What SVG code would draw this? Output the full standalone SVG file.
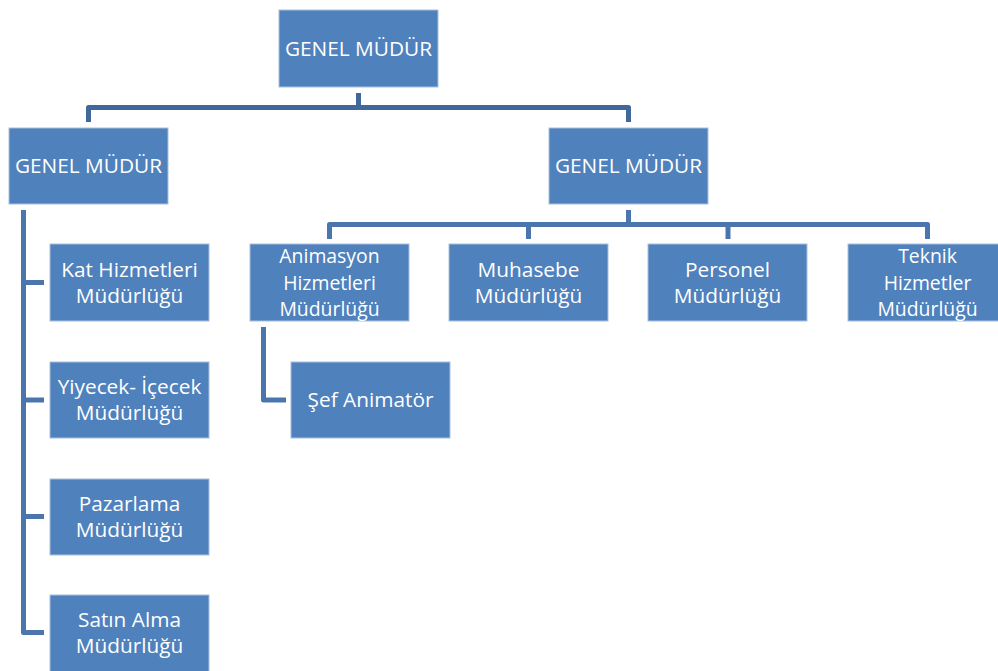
<svg xmlns="http://www.w3.org/2000/svg" width="998" height="671" viewBox="0 0 998 671">
<style>
.box{fill:#4f81bd;stroke:#a9c0de;stroke-width:1}
.t{fill:#ffffff;font-family:"Open Sans","Liberation Sans",sans-serif;font-size:20.8px;text-anchor:middle}
.t3{font-size:19.4px}
.c{fill:none;stroke:#4a76ad;stroke-width:5;stroke-linejoin:round}
.c0{stroke:#41689a}
</style>
<rect width="998" height="671" fill="#ffffff"/>
<g id="connectors">
<path class="c c0" d="M358.5 93V107.5M88.5 122V107.5H628.5V122"/>
<path class="c" d="M628.5 210V224.5M329.5 239V224.5H927.5V239M528.5 224.5V239M728 224.5V239"/>
<path class="c" d="M23.5 210V632.5H44M23.5 282.5H44M23.5 400H44M23.5 516.5H44"/>
<path class="c" d="M263.5 327V400H286"/>
</g>
<g id="n0"><rect class="box" x="279" y="10" width="159" height="77"/><text class="t" x="358.5" y="56">GENEL MÜDÜR</text></g>
<g id="n1"><rect class="box" x="9" y="128" width="159" height="76"/><text class="t" x="88.5" y="173">GENEL MÜDÜR</text></g>
<g id="n2"><rect class="box" x="549" y="128" width="159" height="76"/><text class="t" x="628.5" y="173">GENEL MÜDÜR</text></g>
<g id="n3"><rect class="box" x="50" y="244" width="159" height="77"/><text class="t" x="129.5" y="277">Kat Hizmetleri</text><text class="t" x="129.5" y="303">Müdürlüğü</text></g>
<g id="n4"><rect class="box" x="50" y="362" width="159" height="76"/><text class="t" x="129.5" y="394">Yiyecek- İçecek</text><text class="t" x="129.5" y="420">Müdürlüğü</text></g>
<g id="n5"><rect class="box" x="50" y="479" width="159" height="76"/><text class="t" x="129.5" y="511">Pazarlama</text><text class="t" x="129.5" y="537">Müdürlüğü</text></g>
<g id="n6"><rect class="box" x="50" y="595" width="159" height="80"/><text class="t" x="129.5" y="627">Satın Alma</text><text class="t" x="129.5" y="653">Müdürlüğü</text></g>
<g id="n7"><rect class="box" x="250" y="244" width="159" height="77"/><text class="t t3" x="329.5" y="263">Animasyon</text><text class="t t3" x="329.5" y="289.5">Hizmetleri</text><text class="t t3" x="329.5" y="316">Müdürlüğü</text></g>
<g id="n8"><rect class="box" x="449" y="244" width="159" height="77"/><text class="t" x="528.5" y="277">Muhasebe</text><text class="t" x="528.5" y="303">Müdürlüğü</text></g>
<g id="n9"><rect class="box" x="648" y="244" width="159" height="77"/><text class="t" x="727.5" y="277">Personel</text><text class="t" x="727.5" y="303">Müdürlüğü</text></g>
<g id="n10"><rect class="box" x="848" y="244" width="159" height="77"/><text class="t t3" x="927.5" y="263">Teknik</text><text class="t t3" x="927.5" y="289.5">Hizmetler</text><text class="t t3" x="927.5" y="316">Müdürlüğü</text></g>
<g id="n11"><rect class="box" x="291" y="362" width="159" height="76"/><text class="t" x="370.5" y="407">Şef Animatör</text></g>
</svg>
